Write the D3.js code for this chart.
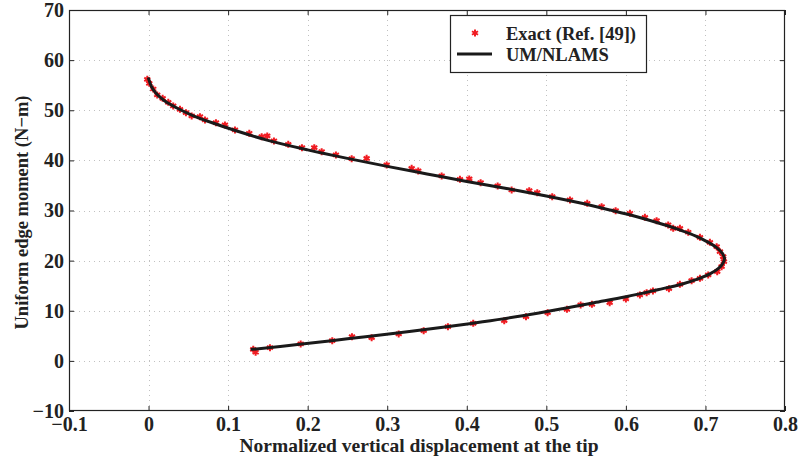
<!DOCTYPE html>
<html>
<head>
<meta charset="utf-8">
<script src="https://cdn.jsdelivr.net/npm/d3@7"></script>
<style>
  body { margin: 0; background: #fff; }
  svg { display: block; }
  text { font-family: "Liberation Serif", "Times New Roman", serif; font-weight: bold; fill: #222; }
</style>
</head>
<body>
<svg id="chart" width="799" height="460"></svg>
<script>
// ---- data ----
const xTicks = [-0.1, 0, 0.1, 0.2, 0.3, 0.4, 0.5, 0.6, 0.7, 0.8];
const yTicks = [-10, 0, 10, 20, 30, 40, 50, 60, 70];

// Exact (Ref. [49]) markers: [displacement, moment]
const exactX = [0.1316,0.1346,0.1526,0.1912,0.2309,0.2557,0.2804,0.3144,0.3458,0.3763,0.4081,0.4471,0.4744,0.5016,0.5259,0.5431,0.5573,0.5796,0.6000,0.6176,0.6261,0.6340,0.6541,0.6679,0.6826,0.6931,0.7035,0.7148,0.7203,0.7232,0.7223,0.7182,0.7141,0.7056,0.6931,0.6784,0.6679,0.6595,0.6532,0.6386,0.6239,0.6051,0.5871,0.5695,0.5514,0.5297,0.5074,0.4886,0.4785,0.4564,0.4388,0.4174,0.4031,0.3914,0.3684,0.3390,0.3307,0.2993,0.2741,0.2553,0.2355,0.2176,0.2083,0.1928,0.1756,0.1576,0.1492,0.1422,0.1266,0.1086,0.0960,0.0847,0.0709,0.0646,0.0542,0.0470,0.0395,0.0310,0.0248,0.0177,0.0109,0.0059,0.0009,-0.0016];
const exactY = [2.31,1.72,2.63,3.37,4.03,4.83,4.63,5.37,6.02,6.82,7.50,8.02,8.82,9.62,10.29,11.15,11.29,11.61,12.35,13.15,13.61,13.95,14.40,15.28,16.00,16.48,17.14,17.80,18.79,19.79,20.79,21.79,22.78,23.66,24.66,25.66,26.45,26.45,27.11,27.97,28.65,29.45,29.96,30.76,31.44,32.10,32.76,33.56,33.96,34.09,34.89,35.55,36.29,36.23,36.89,37.89,38.42,39.08,40.42,40.34,41.08,41.74,42.53,42.53,43.21,43.87,44.87,44.73,45.41,46.07,47.07,47.52,48.06,48.72,48.86,49.52,50.19,50.85,51.59,52.39,53.05,54.24,55.38,56.18];

// UM/NLAMS line
const umX = [0.130,0.19,0.25,0.31,0.37,0.42,0.47,0.52,0.56,0.60,0.64,0.67,0.69,0.705,0.716,0.722,0.724,0.721,0.714,0.703,0.688,0.670,0.645,0.615,0.58,0.54,0.50,0.45,0.40,0.35,0.30,0.25,0.20,0.15,0.11,0.08,0.055,0.035,0.02,0.01,0.004,0.0];
const umY = [2.3,3.3,4.4,5.5,6.7,7.8,9.0,10.4,11.6,12.8,14.2,15.3,16.3,17.3,18.4,19.5,20.4,21.5,22.6,23.7,24.9,26.0,27.3,28.7,30.1,31.6,32.9,34.4,35.8,37.3,38.8,40.4,42.1,44.0,45.9,47.5,49.0,50.5,51.9,53.3,54.6,56.3];

const legendLabels = ["Exact (Ref. [49])", "UM/NLAMS"];
const xLabel = "Normalized vertical displacement at the tip";
const yLabel = "Uniform edge moment (N\u2212m)";

// ---- drawing ----
const svg = d3.select("#chart");
const L = 69, R = 785, T = 10, B = 411;
const x = d3.scaleLinear().domain([-0.1, 0.8]).range([L, R]);
const y = d3.scaleLinear().domain([-10, 70]).range([B, T]);
const fmt = v => (v < 0 ? "\u2212" : "") + String(Math.abs(v));

// grid
const grid = svg.append("g").attr("stroke", "#999").attr("stroke-width", 1)
  .attr("stroke-dasharray", "1,4").attr("opacity", 0.6);
xTicks.slice(1, -1).forEach(t => {
  grid.append("line").attr("x1", Math.round(x(t)) + 0.5).attr("x2", Math.round(x(t)) + 0.5)
    .attr("y1", T).attr("y2", B);
});
yTicks.slice(1, -1).forEach(t => {
  grid.append("line").attr("y1", Math.round(y(t)) + 0.5).attr("y2", Math.round(y(t)) + 0.5)
    .attr("x1", L).attr("x2", R);
});

// axes
const xAxisB = d3.axisBottom(x).tickValues(xTicks).tickSize(-5).tickPadding(6).tickFormat(fmt);
const xAxisT = d3.axisTop(x).tickValues(xTicks).tickSize(-5).tickFormat("");
const yAxisL = d3.axisLeft(y).tickValues(yTicks).tickSize(-5).tickPadding(5).tickFormat(fmt);
const yAxisR = d3.axisRight(y).tickValues(yTicks).tickSize(-5).tickFormat("");

function styleAxis(g) {
  g.select(".domain").remove();
  g.selectAll(".tick line").attr("stroke", "#222");
  g.selectAll("text").attr("font-size", 20).attr("font-family", "Liberation Serif, serif")
    .attr("font-weight", "bold").attr("fill", "#222");
}
svg.append("g").attr("transform", `translate(0,${B})`).call(xAxisB).call(styleAxis);
svg.append("g").attr("transform", `translate(0,${T})`).call(xAxisT).call(styleAxis);
svg.append("g").attr("transform", `translate(${L},0)`).call(yAxisL).call(styleAxis);
svg.append("g").attr("transform", `translate(${R},0)`).call(yAxisR).call(styleAxis);

// frame
svg.append("rect").attr("x", L + 0.5).attr("y", T + 0.5).attr("width", R - L - 1).attr("height", B - T - 1)
  .attr("fill", "none").attr("stroke", "#222").attr("stroke-width", 1.2);

// markers
const star = d3.symbol().type(d3.symbolAsterisk).size(34);
const pts = exactX.map((v, i) => [v, exactY[i]]);
svg.append("g").selectAll("path").data(pts).join("path")
  .attr("d", star)
  .attr("transform", d => `translate(${x(d[0])},${y(d[1])})`)
  .attr("fill", "none").attr("stroke", "#f01c22").attr("stroke-width", 2);

// line
const linePts = umX.map((v, i) => [v, umY[i]]);
svg.append("path").datum(linePts)
  .attr("d", d3.line().x(d => x(d[0])).y(d => y(d[1])).curve(d3.curveCatmullRom.alpha(0.5)))
  .attr("fill", "none").attr("stroke", "#1a1a1a").attr("stroke-width", 3)
  .attr("stroke-linejoin", "round").attr("stroke-linecap", "round");

// labels
svg.append("text").attr("x", (L + R) / 2 - 8).attr("y", 452).attr("text-anchor", "middle")
  .attr("font-size", 19.5).text(xLabel);
svg.append("text").attr("transform", `translate(28,${(T + B) / 2 + 2}) rotate(-90)`)
  .attr("text-anchor", "middle").attr("font-size", 18.5).text(yLabel);

// legend
const lg = svg.append("g");
lg.append("rect").attr("x", 450.5).attr("y", 15.5).attr("width", 196).attr("height", 57)
  .attr("fill", "#fff").attr("stroke", "#222").attr("stroke-width", 1.2);
lg.append("path").attr("d", star).attr("transform", "translate(475,33)")
  .attr("fill", "none").attr("stroke", "#f01c22").attr("stroke-width", 2);
lg.append("line").attr("x1", 457).attr("x2", 492).attr("y1", 54).attr("y2", 54)
  .attr("stroke", "#1a1a1a").attr("stroke-width", 3);
lg.append("text").attr("x", 506).attr("y", 40).attr("font-size", 18.5).text(legendLabels[0]);
lg.append("text").attr("x", 506).attr("y", 61).attr("font-size", 18.5).text(legendLabels[1]);
</script>
</body>
</html>
